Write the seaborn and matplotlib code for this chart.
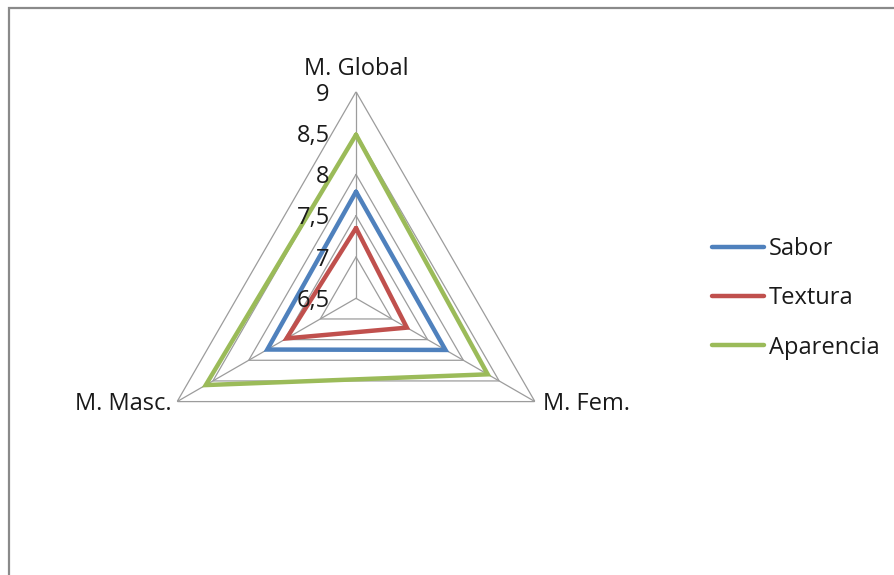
import numpy as np
import pandas as pd
import matplotlib
matplotlib.use("Agg")
import matplotlib.pyplot as plt
from matplotlib.lines import Line2D
from matplotlib.patches import Rectangle
import seaborn as sns

# Radar axes (clockwise from top)
axes_labels = ["M. Global", "M. Fem.", "M. Masc."]

# Series values per axis, in the same order as axes_labels
sabor = [7.79, 7.75, 7.74]
textura = [7.35, 7.21, 7.47]
aparencia = [8.48, 8.34, 8.60]

series_names = ["Sabor", "Textura", "Aparencia"]
series_colors = ["#4F81BD", "#C0504D", "#9BBB59"]

r_ticks = [6.5, 7, 7.5, 8, 8.5, 9]
r_tick_labels = ["6,5", "7", "7,5", "8", "8,5", "9"]

sns.set_theme(style="white")
plt.rcParams["font.family"] = ["Open Sans", "DejaVu Sans"]

FS = 17
TXT = "#1a1a1a"
GRID = "#9c9c9c"

theta = np.deg2rad([0, 120, 240])
theta_closed = np.append(theta, 2 * np.pi)

rows = []
for name, vals in zip(series_names, [sabor, textura, aparencia]):
    closed = list(vals) + [vals[0]]
    for t, v in zip(theta_closed, closed):
        rows.append({"theta": t, "value": v, "serie": name})
df = pd.DataFrame(rows)

fig = plt.figure(figsize=(8.95, 5.75), dpi=100)
ax = fig.add_axes([0.167, 0.1219, 0.4616, 0.7186], projection="polar")
ax.set_theta_zero_location("N")
ax.set_theta_direction(-1)
ax.set_ylim(r_ticks[0], r_ticks[-1])
ax.grid(False)
ax.spines["polar"].set_visible(False)
ax.set_xticks([])
ax.set_yticks([])
ax.patch.set_alpha(0)

# triangular grid rings and spokes
for r in r_ticks[1:]:
    ax.plot(theta_closed, [r] * len(theta_closed), color=GRID, lw=0.9, zorder=1)
for t in theta:
    ax.plot([t, t], [r_ticks[0], r_ticks[-1]], color=GRID, lw=0.9, zorder=1)

sns.lineplot(data=df, x="theta", y="value", hue="serie", hue_order=series_names,
             palette=series_colors, sort=False, estimator=None, lw=3.2,
             legend=False, ax=ax, zorder=3)
for ln in ax.lines[-3:]:
    ln.set_solid_joinstyle("miter")
ax.set_xlabel("")
ax.set_ylabel("")

# radial value labels beside the top spoke
for r, lab in zip(r_ticks, r_tick_labels):
    ax.annotate(lab, xy=(0, r), xytext=(-19, -2), textcoords="offset points",
                ha="right", va="center", fontsize=FS, color=TXT)

# axis category labels
offsets = [((0, 8), "center", "bottom"),
           ((6, -2), "left", "center"),
           ((-4, -2), "right", "center")]
for t, lab, (off, ha, va) in zip(theta, axes_labels, offsets):
    ax.annotate(lab, xy=(t, r_ticks[-1]), xytext=off, textcoords="offset points",
                ha=ha, va=va, fontsize=FS, color=TXT, annotation_clip=False)

handles = [Line2D([0], [0], color=c, lw=3.2) for c in series_colors]
fig.legend(handles, series_names, loc="upper left",
           bbox_to_anchor=(712 / 895, 1 - 237 / 575), frameon=False,
           fontsize=FS, handlelength=2.2, handletextpad=0.22,
           labelspacing=1.07, borderpad=0, borderaxespad=0,
           labelcolor=TXT)

# chart area border
fig.add_artist(Rectangle((9.5 / 895, -0.2), 1.2, 1.2 - 7.5 / 575,
                         transform=fig.transFigure, fill=False,
                         edgecolor="#8a8a8a", lw=1.6))

fig.savefig("out.png", dpi=100)
